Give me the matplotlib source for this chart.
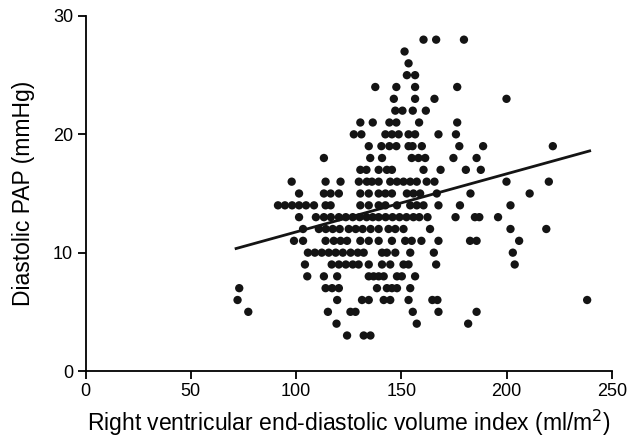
import matplotlib
matplotlib.use("Agg")
import matplotlib.pyplot as plt

plt.rcParams['font.family'] = ['Liberation Sans', 'DejaVu Sans']

# Scatter data grouped by diastolic PAP value (mmHg): x = RVEDVI (ml/m2)
rows = {
    28: [160.5, 166.5, 179.7],
    27: [151.5],
    26: [153.4],
    25: [152.6, 156.5],
    24: [137.6, 147.6, 156.5, 176.5],
    23: [146.4, 156.5, 165.7, 199.9],
    22: [147.1, 150.5, 155.4, 161.6],
    21: [130.5, 136.4, 144.3, 147.6, 158.4, 176.5],
    20: [127.4, 131.0, 142.4, 145.5, 148.7, 153.4, 156.5, 167.6, 175.9],
    19: [134.5, 140.5, 144.3, 147.6, 153.4, 155.3, 159.7, 177.5, 188.8, 221.9],
    18: [113.2, 135.2, 140.8, 154.9, 158.1, 161.3, 174.7, 185.7],
    17: [130.5, 133.4, 139.2, 143.1, 145.5, 160.5, 168.6, 180.6, 187.7],
    16: [97.9, 114.0, 121.1, 129.8, 133.6, 136.0, 139.2, 144.7, 147.9, 151.0,
         154.2, 157.3, 162.0, 165.7, 199.9, 220.0],
    15: [101.4, 113.2, 116.4, 120.3, 130.5, 134.5, 139.2, 142.4, 145.5, 152.6,
         155.7, 158.9, 166.8, 182.8, 210.9],
    14: [91.4, 94.7, 98.1, 101.4, 104.7, 108.5, 114.0, 116.4, 130.5, 134.5,
         139.2, 142.4, 147.9, 154.2, 157.3, 160.5, 167.6, 177.8, 201.8],
    13: [101.4, 109.4, 113.2, 116.5, 120.3, 123.6, 126.9, 130.2, 133.5, 136.4,
         139.2, 142.5, 145.8, 149.1, 152.4, 155.7, 158.5, 162.4, 175.7, 184.9,
         187.0, 195.9],
    12: [103.3, 110.8, 114.1, 117.4, 120.7, 125.0, 128.3, 131.6, 135.4, 139.2,
         143.9, 147.1, 151.0, 163.6, 201.8, 218.8],
    11: [99.0, 103.3, 114.0, 117.9, 121.1, 124.2, 130.5, 134.5, 139.2, 145.5,
         151.8, 154.9, 159.5, 167.6, 182.6, 185.7, 205.9],
    10: [105.6, 108.9, 112.2, 115.5, 118.8, 122.2, 125.9, 129.3, 132.1, 140.8,
         143.1, 147.1, 154.2, 165.4, 202.9],
    9: [104.2, 116.9, 120.3, 123.6, 126.9, 129.7, 134.5, 140.8, 144.7, 151.0,
        153.4, 166.5, 203.8],
    8: [105.3, 113.2, 119.5, 134.5, 136.8, 139.2, 141.6, 147.9, 150.2, 156.5],
    7: [73.0, 114.0, 117.1, 120.3, 138.4, 143.1, 145.5, 147.9, 154.2],
    6: [72.2, 119.5, 131.3, 134.5, 141.6, 144.7, 153.4, 164.7, 167.1, 238.2],
    5: [77.3, 115.1, 125.8, 128.2, 155.4, 167.6, 185.7],
    4: [119.2, 157.3, 181.7],
    3: [124.2, 132.1, 135.3],
}

# Regression line end points
line_x = [71.5, 239.4]
line_y = [10.35, 18.6]

x_ticks = [0, 50, 100, 150, 200, 250]
y_ticks = [0, 10, 20, 30]

xs, ys = [], []
for yv, xl in rows.items():
    for xv in xl:
        xs.append(xv)
        ys.append(yv)

fig = plt.figure(figsize=(6.28, 4.46), dpi=100)
ax = fig.add_axes([85.5 / 628, 75 / 446, 526.5 / 628, 355 / 446])

ax.scatter(xs, ys, s=36, color='#141414', edgecolors='none', zorder=3, clip_on=False)
ax.plot(line_x, line_y, color='#141414', lw=2, zorder=4)

ax.set_xlim(0, 250)
ax.set_ylim(0, 30)
ax.set_xticks(x_ticks)
ax.set_yticks(y_ticks)
for s in ['top', 'right']:
    ax.spines[s].set_visible(False)
for s in ['left', 'bottom']:
    ax.spines[s].set_linewidth(1.3)
ax.tick_params(direction='out', length=6, width=1.3, labelsize=13, pad=3)

ax.set_xlabel('Right ventricular end-diastolic volume index (ml/m$^2$)', fontsize=16.5, labelpad=5)
ax.set_ylabel('Diastolic PAP (mmHg)', fontsize=16.5, labelpad=13)

fig.savefig('out.png', dpi=100)
